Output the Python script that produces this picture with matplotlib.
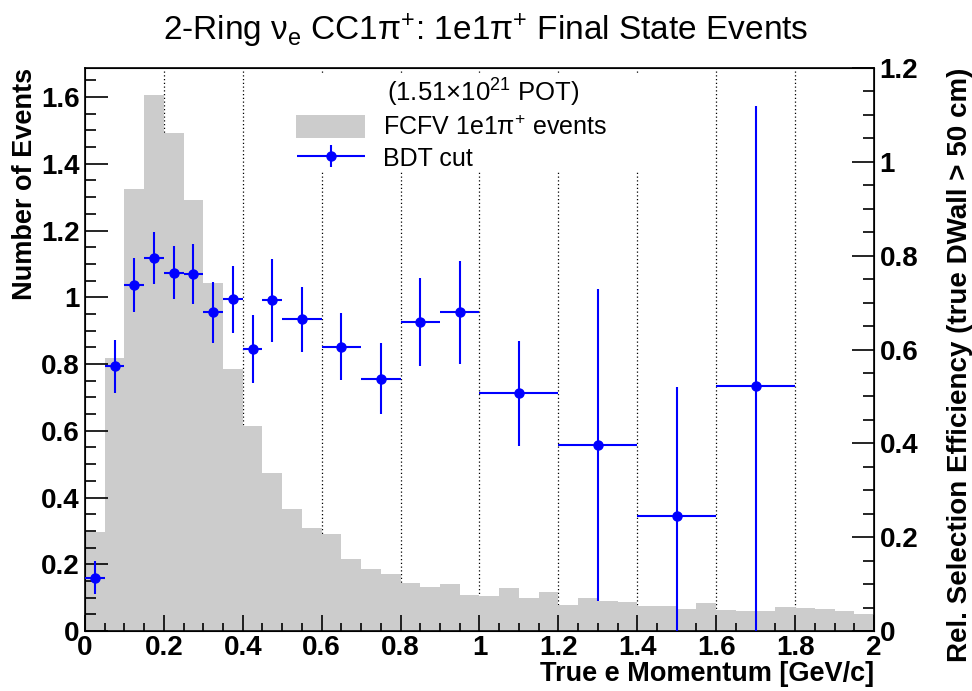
'''
2-Ring nu_e CC1pi+ : 1e1pi+ final state, histogram + efficiency points
'''
import numpy as np
import matplotlib
matplotlib.use("Agg")
from matplotlib import pyplot as plt
from matplotlib.patches import Patch, Rectangle
from matplotlib.container import ErrorbarContainer
from matplotlib.legend_handler import HandlerErrorbar
from matplotlib.ticker import MultipleLocator, FormatStrFormatter

plt.rcParams['font.family'] = ['Liberation Sans', 'DejaVu Sans']
plt.rcParams['mathtext.fontset'] = 'custom'
plt.rcParams['mathtext.rm'] = 'Liberation Sans'
plt.rcParams['mathtext.it'] = 'Liberation Sans:italic'
plt.rcParams['mathtext.bf'] = 'Liberation Sans:bold'

# FCFV 1e1pi+ events, 40 bins of 0.05 GeV/c from 0 to 2
hist_edges = np.linspace(0, 2, 41)
hist_counts = [0.298, 0.818, 1.323, 1.605, 1.493, 1.292, 1.043, 0.785, 0.613, 0.474,
               0.365, 0.310, 0.291, 0.215, 0.187, 0.171, 0.144, 0.132, 0.140, 0.108,
               0.105, 0.129, 0.098, 0.116, 0.078, 0.098, 0.090, 0.086, 0.076, 0.074,
               0.067, 0.085, 0.062, 0.059, 0.059, 0.073, 0.069, 0.067, 0.060, 0.051]

# BDT cut relative efficiency (right axis), variable bins
eff_edges = [0, 0.05, 0.1, 0.15, 0.2, 0.25, 0.3, 0.35, 0.4, 0.45, 0.5,
             0.6, 0.7, 0.8, 0.9, 1.0, 1.2, 1.4, 1.6, 1.8]
eff = [0.114, 0.564, 0.737, 0.795, 0.764, 0.760, 0.679, 0.707, 0.601, 0.705,
       0.664, 0.606, 0.538, 0.658, 0.679, 0.507, 0.397, 0.245, 0.522]
eff_err = [0.036, 0.056, 0.058, 0.056, 0.057, 0.064, 0.065, 0.072, 0.073, 0.088,
           0.070, 0.071, 0.075, 0.094, 0.110, 0.112, 0.333, 0.276, 0.598]

grid_x = [0.2, 0.4, 0.6, 0.8, 1.0, 1.2, 1.4, 1.6, 1.8]

e = np.array(eff_edges)
eff_x = (e[1:] + e[:-1]) / 2
eff_xerr = (e[1:] - e[:-1]) / 2

fig = plt.figure(figsize=(9.72, 6.91), dpi=100)
ax = fig.add_axes([0.0874, 0.0868, 0.8118, 0.8148])

# dotted vertical guide lines behind histogram
for gx in grid_x:
    ax.axvline(gx, color='black', lw=0.9, ls=(0, (1, 2)), zorder=0.3)

ax.stairs(hist_counts, hist_edges, fill=True, color='#cccccc', lw=0, zorder=1)

ax.set_xlim(0, 2)
ax.set_ylim(0, 1.687)
ax.xaxis.set_major_locator(MultipleLocator(0.2))
ax.xaxis.set_minor_locator(MultipleLocator(0.05))
ax.yaxis.set_major_locator(MultipleLocator(0.2))
ax.yaxis.set_minor_locator(MultipleLocator(0.05))
ax.xaxis.set_major_formatter(FormatStrFormatter('%g'))
ax.yaxis.set_major_formatter(FormatStrFormatter('%g'))
ax.tick_params(axis='both', which='both', direction='in', top=False, right=False,
               labelsize=20, width=1.2)
ax.tick_params(axis='y', which='major', length=16.5, pad=4)
ax.tick_params(axis='y', which='minor', length=8)
ax.tick_params(axis='x', which='major', length=11.5, pad=3)
ax.tick_params(axis='x', which='minor', length=5.8)
for lab in ax.get_xticklabels() + ax.get_yticklabels():
    lab.set_fontweight('bold')
for sp in ax.spines.values():
    sp.set_linewidth(1.2)

ax.set_ylabel('Number of Events', fontsize=19.5, fontweight='bold', loc='top', labelpad=2)
ax.set_xlabel('True e Momentum [GeV/c]', fontsize=19.5, fontweight='bold', loc='right',
              labelpad=0)

# white legend area that hides the dotted lines
ax.add_patch(Rectangle((0.262, 0.815), 0.518, 0.173, transform=ax.transAxes,
                       facecolor='white', edgecolor='none', zorder=0.5))

ax2 = ax.twinx()
ax2.set_ylim(0, 1.2)
ax2.yaxis.set_major_locator(MultipleLocator(0.2))
ax2.yaxis.set_minor_locator(MultipleLocator(0.05))
ax2.yaxis.set_major_formatter(FormatStrFormatter('%g'))
ax2.tick_params(axis='y', which='both', direction='in', left=False, labelsize=20, width=1.2)
ax2.tick_params(axis='y', which='major', length=16, pad=4)
ax2.tick_params(axis='y', which='minor', length=8)
for lab in ax2.get_yticklabels():
    lab.set_fontweight('bold')
ax2.set_ylabel('Rel. Selection Efficiency (true DWall > 50 cm)', fontsize=20,
               fontweight='bold', loc='top', labelpad=21)

pts = ax2.errorbar(eff_x, eff, yerr=eff_err, xerr=eff_xerr, fmt='o', color='#0000ff',
                   ms=6.5, elinewidth=1.5, capsize=0, clip_on=True, zorder=3)

fig.suptitle('2-Ring ν$_{\\mathrm{e}}$ CC1π$^{+}$: 1e1π$^{+}$ Final State Events',
             fontsize=24, y=0.983)

ax.text(0.505, 0.955, '(1.51×10$^{21}$ POT)', transform=ax.transAxes, ha='center',
        va='center', fontsize=18.5, zorder=5)

hist_handle = Patch(facecolor='#cccccc', edgecolor='none')
leg = ax2.legend([hist_handle, pts], ['FCFV 1e1π$^{+}$ events', 'BDT cut'],
                 loc='upper left', bbox_to_anchor=(0.268, 0.916), frameon=False,
                 fontsize=18, handlelength=2.75, handleheight=1.0, labelspacing=0.25,
                 handletextpad=0.7, borderpad=0.0, borderaxespad=0.0,
                 handler_map={ErrorbarContainer: HandlerErrorbar(xerr_size=1.37,
                                                                 yerr_size=0.45)})

fig.savefig('out.png', dpi=100)
